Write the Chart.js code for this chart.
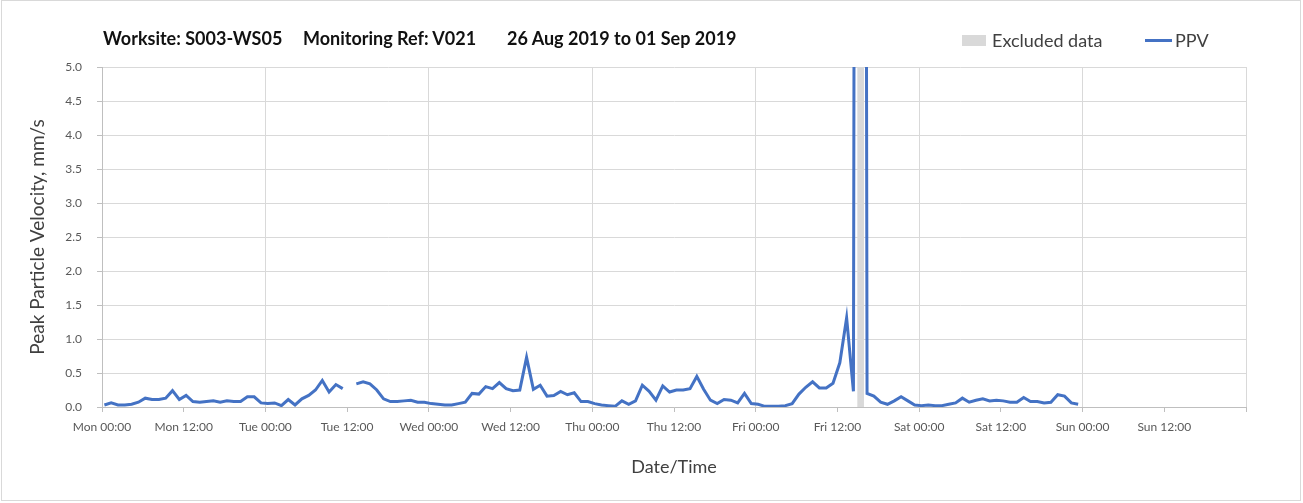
<!DOCTYPE html>
<html>
<head>
<meta charset="utf-8">
<script src="https://cdn.jsdelivr.net/npm/chart.js@4/dist/chart.umd.min.js"></script>
<style>
  html, body { margin: 0; padding: 0; background: #fff; }
  #wrap { position: relative; width: 1303px; height: 503px; font-family: Lato, "Open Sans", sans-serif; }
  #c { position: absolute; left: 0; top: 0; }
  .frame { position: absolute; left: 1px; top: 0; width: 1300px; height: 501px; box-sizing: border-box; border: 1px solid #d9d9d9; pointer-events: none; }
  .t { position: absolute; top: 27px; font-weight: bold; font-size: 18px; line-height: 22px; color: #111; white-space: pre; }
  .lg { position: absolute; top: 29px; font-size: 18px; line-height: 22px; color: #404040; white-space: pre; }
  .sw { position: absolute; }
</style>
</head>
<body>
<div id="wrap">
  <canvas id="c" width="1303" height="503"></canvas>
  <div class="t" style="left:103px">Worksite: S003-WS05</div>
  <div class="t" style="left:303px">Monitoring Ref: V021</div>
  <div class="t" style="left:507px">26 Aug 2019 to 01 Sep 2019</div>
  <div class="sw" style="left:962px;top:35px;width:24px;height:11px;background:#d9d9d9"></div>
  <div class="lg" style="left:992px">Excluded data</div>
  <div class="sw" style="left:1145px;top:39px;width:27px;height:3px;background:#4472C4"></div>
  <div class="lg" style="left:1175px">PPV</div>
  <div class="frame"></div>
</div>
<script>
// Hourly PPV readings (mm/s), Mon 26 Aug 2019 00:00 onwards; null = missing, 60 = off-scale (excluded)
const ppv = [
  0.03, 0.06, 0.03, 0.03, 0.04, 0.07, 0.13, 0.11, 0.11, 0.13, 0.24, 0.11,
  0.17, 0.08, 0.07, 0.08, 0.09, 0.07, 0.09, 0.08, 0.08, 0.15, 0.15, 0.06,
  0.05, 0.06, 0.02, 0.11, 0.03, 0.12, 0.17, 0.25, 0.39, 0.22, 0.33, 0.27,
  null, 0.34, 0.37, 0.34, 0.25, 0.12, 0.08, 0.08, 0.09, 0.10, 0.07, 0.07,
  0.05, 0.04, 0.03, 0.03, 0.05, 0.07, 0.20, 0.19, 0.30, 0.27, 0.36, 0.27,
  0.24, 0.25, 0.73, 0.26, 0.32, 0.16, 0.17, 0.23, 0.18, 0.21, 0.08, 0.08,
  0.05, 0.03, 0.02, 0.01, 0.09, 0.04, 0.09, 0.32, 0.23, 0.10, 0.31, 0.22,
  0.25, 0.25, 0.27, 0.45, 0.26, 0.10, 0.05, 0.11, 0.10, 0.06, 0.20, 0.05,
  0.04, 0.01, 0.01, 0.01, 0.02, 0.05, 0.19, 0.29, 0.37, 0.28, 0.28, 0.35,
  0.65, 1.31, 0.23, 60, 0.20, 0.16, 0.07, 0.04, 0.09, 0.15, 0.09, 0.03,
  0.02, 0.03, 0.02, 0.02, 0.04, 0.06, 0.13, 0.07, 0.10, 0.12, 0.09, 0.10,
  0.09, 0.07, 0.07, 0.14, 0.08, 0.08, 0.06, 0.07, 0.18, 0.16, 0.06, 0.04
];
const firstReadingHour = 0.35;           // first reading, hours after Mon 00:00
const excludedFrom = [110.9];            // excluded periods, hours after Mon 00:00
const excludedTo = [111.9];
const tickLabels = ['Mon 00:00','Mon 12:00','Tue 00:00','Tue 12:00','Wed 00:00','Wed 12:00',
  'Thu 00:00','Thu 12:00','Fri 00:00','Fri 12:00','Sat 00:00','Sat 12:00','Sun 00:00','Sun 12:00',''];
const yMax = 5;

const ppvPoints = ppv.map((v, i) => ({ x: firstReadingHour + i, y: v }));
const excludedPoints = [];
excludedFrom.forEach((s, k) => { excludedPoints.push({ x: s, y: yMax }, { x: excludedTo[k], y: yMax }); });

Chart.defaults.font.family = 'Lato, "Open Sans", sans-serif';

new Chart(document.getElementById('c'), {
  type: 'line',
  data: {
    datasets: [
      { label: 'PPV', data: ppvPoints, borderColor: '#4472C4', backgroundColor: '#4472C4',
        borderWidth: 3, pointRadius: 0, tension: 0, spanGaps: false, fill: false, order: 0 },
      { label: 'Excluded data', data: excludedPoints, borderWidth: 0, borderColor: 'rgba(0,0,0,0)',
        backgroundColor: '#d9d9d9', pointRadius: 0, fill: 'origin', order: 1 }
    ]
  },
  options: {
    responsive: false,
    animation: false,
    layout: { padding: { left: 0, right: 57, top: 67, bottom: 22 } },
    plugins: { legend: { display: false }, tooltip: { enabled: false } },
    scales: {
      x: {
        type: 'linear', min: 0, max: 168,
        afterFit: (s) => { s.height = 74; },
        ticks: { stepSize: 12, autoSkip: false, maxRotation: 0, padding: 8, color: '#595959',
                 font: { size: 12 }, callback: (v) => tickLabels[Math.round(v / 12)] ?? '' },
        grid: { color: (ctx) => (ctx.tick && ctx.tick.value % 24 === 0) ? '#d9d9d9' : 'rgba(0,0,0,0)',
                tickColor: '#bfbfbf', tickLength: 5, lineWidth: 1 },
        border: { color: '#bfbfbf' },
        title: { display: true, text: 'Date/Time', color: '#404040', font: { size: 18 }, padding: { top: 4, bottom: 3 } }
      },
      y: {
        min: 0, max: yMax,
        afterFit: (s) => { s.width = 102; },
        ticks: { stepSize: 0.5, padding: 15, color: '#595959', font: { size: 12 },
                 callback: (v) => v.toFixed(1) },
        grid: { color: '#d9d9d9', tickColor: '#bfbfbf', tickLength: 5 },
        border: { color: '#bfbfbf' },
        title: { display: true, text: 'Peak Particle Velocity, mm/s', color: '#404040', font: { size: 19 }, padding: { top: 26, bottom: 0 } }
      }
    }
  }
});
</script>
</body>
</html>
